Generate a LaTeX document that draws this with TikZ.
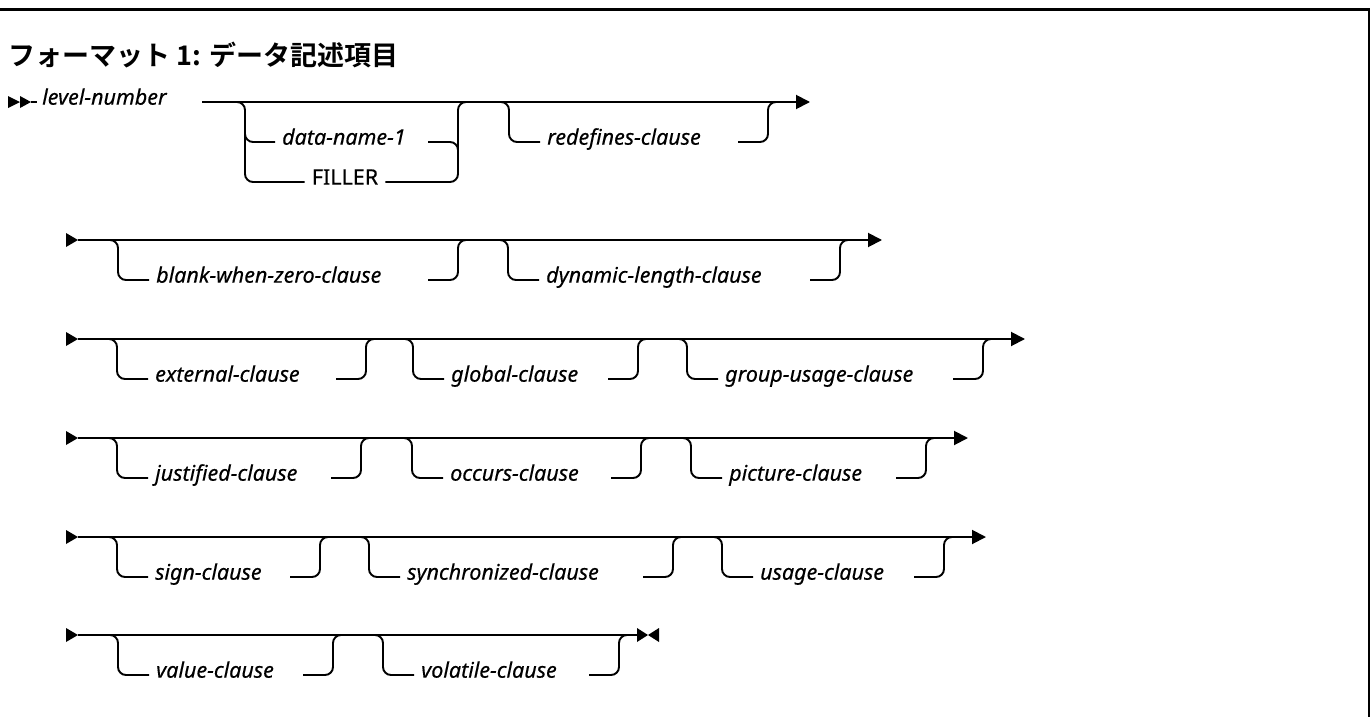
\documentclass[tikz,border=0pt]{standalone}
\usepackage{fontspec}
\setmainfont{Noto Sans}[UprightFeatures={FakeBold=0.45},ItalicFeatures={FakeBold=0.35}]
\newfontfamily\cjkfont{Noto Sans CJK JP}[BoldFont={Noto Sans CJK JP Bold}]
\usetikzlibrary{arrows.meta}
% optional branch: #1 name, #2 xL, #3 xR, #4 y of main line, #5 text
\newcommand\optbranch[5]{%
  \node[lbl] (#1) at (#2+38,#4+40) {#5};
  \coordinate (#1-in) at (#2-16,#4);
  \coordinate (#1-out) at (#3+16,#4);
  \draw[railr] (#1-in) -- (#2,#4) -- (#2,#4+40) -- ([xshift=-7pt]#1.mid west);
  \draw[railr] (#3-30,#4+40) -- (#3,#4+40) -- (#3,#4) -- (#1-out);
}
\newcommand\startmark[2]{% #1 name, #2 y
  \coordinate (#1) at (78,#2);
  \fill (66,#2-7) -- (#1) -- (66,#2+7) -- cycle;
}
\begin{document}
\begin{tikzpicture}[x=1pt,y=-1pt,
  rail/.style={line width=1.9pt},
  railr/.style={rail, rounded corners=8pt},
  endarrow/.style={-{Triangle[length=14pt,width=14pt]}},
  lbl/.style={font=\fontsize{21.5}{25}\selectfont\itshape, anchor=mid west, inner sep=0pt},
  kw/.style={font=\fontsize{21.5}{25}\selectfont, anchor=mid, inner sep=0pt},
  ]
\useasboundingbox (0,0) rectangle (1372,717);
% frame
\draw[line width=2.6pt] (0,9.5) -- (1369,9.5) -- (1369,717);
% title
\node[anchor=west, inner sep=0pt] (title) at (8,55)
  {\cjkfont\bfseries\fontsize{27}{30}\selectfont フォーマット 1: データ記述項目};

% ---------- row 1 ----------
\fill (8,96) -- (20,102) -- (8,108) -- cycle;
\fill (20,96) -- (31,102) -- (20,108) -- cycle;
\coordinate (r1a) at (31,102);
\coordinate (r1b) at (37,102);
\draw[rail] (r1a) -- (r1b);
\node[lbl] (lvl) at (42,102) {level-number};
\coordinate (r1s) at (202,102);
\coordinate (r1e) at (810,102);
\draw[rail,endarrow] (r1s) -- (r1e);
% choice group
\node[lbl] (dn) at (282,142) {data-name-1};
\node[kw] (filler) at (345,182) {FILLER};
\draw[railr] (229,102) -- (245,102) -- (245,182) -- ([xshift=-7pt]filler.mid west);
\draw[railr] (245,126) -- (245,142) -- ([xshift=-7pt]dn.mid west);
\draw[railr] ([xshift=7pt]filler.mid east) -- (458,182) -- (458,102) -- (474,102);
\draw[railr] (428,142) -- (458,142) -- (458,158);
\optbranch{redef}{509}{768}{102}{redefines-clause}

% ---------- row 2 ----------
\startmark{r2s}{240}
\coordinate (r2e) at (882,240);
\draw[rail,endarrow] (r2s) -- (r2e);
\optbranch{bwz}{118}{458}{240}{blank-when-zero-clause}
\optbranch{dyn}{508}{840}{240}{dynamic-length-clause}

% ---------- row 3 ----------
\startmark{r3s}{339}
\coordinate (r3e) at (1025,339);
\draw[rail,endarrow] (r3s) -- (r3e);
\optbranch{ext}{117}{366}{339}{external-clause}
\optbranch{glb}{413}{638}{339}{global-clause}
\optbranch{grp}{687}{983}{339}{group-usage-clause}

% ---------- row 4 ----------
\startmark{r4s}{438}
\coordinate (r4e) at (968,438);
\draw[rail,endarrow] (r4s) -- (r4e);
\optbranch{jus}{117}{361}{438}{justified-clause}
\optbranch{occ}{412}{641}{438}{occurs-clause}
\optbranch{pic}{691}{926}{438}{picture-clause}

% ---------- row 5 ----------
\startmark{r5s}{537}
\coordinate (r5e) at (986,537);
\draw[rail,endarrow] (r5s) -- (r5e);
\optbranch{sgn}{117}{320}{537}{sign-clause}
\optbranch{syn}{369}{673}{537}{synchronized-clause}
\optbranch{usg}{722}{944}{537}{usage-clause}

% ---------- row 6 ----------
\startmark{r6s}{635}
\coordinate (r6e) at (637,635);
\draw[rail] (r6s) -- (r6e);
\fill (637,628) -- (648,635) -- (637,642) -- cycle;
\fill (659,628) -- (648,635) -- (659,642) -- cycle;
\optbranch{val}{118}{333}{635}{value-clause}
\optbranch{vol}{383}{619}{635}{volatile-clause}
\end{tikzpicture}
\end{document}
